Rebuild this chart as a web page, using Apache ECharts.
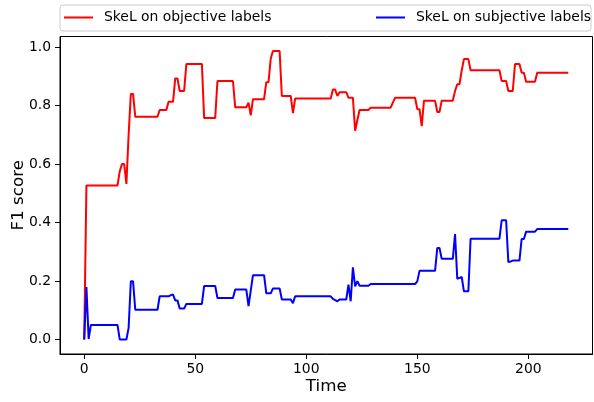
<!DOCTYPE html>
<html>
<head>
<meta charset="utf-8">
<script src="https://cdn.jsdelivr.net/npm/echarts@6/dist/echarts.min.js"></script>
<style>html,body{margin:0;padding:0;background:#fff;}#c{width:594px;height:402px;}</style>
</head>
<body>
<div id="c"></div>
<script>
var seriesNames = ['SkeL on objective labels', 'SkeL on subjective labels'];
var xTicks = [0, 50, 100, 150, 200];
var yTicks = [0, 0.2, 0.4, 0.6, 0.8, 1.0];

var objective = [
0,0.527,0.527,0.527,0.527,0.527,0.527,0.527,0.527,0.527,0.527,0.527,0.527,0.527,0.527,0.527,
0.575,0.60,0.60,0.532,0.70,0.84,0.84,
0.762,0.762,0.762,0.762,0.762,0.762,0.762,0.762,0.762,0.762,0.762,
0.785,0.785,0.785,0.785,0.813,0.813,0.813,0.893,0.893,0.85,0.85,0.85,
0.942,0.942,0.942,0.942,0.942,0.942,0.942,0.942,
0.758,0.758,0.758,0.758,0.758,0.758,
0.884,0.884,0.884,0.884,0.884,0.884,0.884,0.884,
0.794,0.794,0.794,0.794,0.794,0.794,
0.81,0.767,
0.822,0.822,0.822,0.822,0.822,0.822,
0.88,0.88,0.961,
0.987,0.987,0.987,0.987,
0.833,0.833,0.833,0.833,0.833,
0.774,
0.824,0.824,0.824,0.824,0.824,0.824,0.824,0.824,0.824,0.824,0.824,0.824,0.824,0.824,0.824,0.824,0.824,
0.855,0.855,0.833,
0.846,0.846,0.846,0.846,
0.827,0.827,0.827,0.714,0.75,
0.785,0.785,0.785,0.785,0.785,
0.793,0.793,0.793,0.793,0.793,0.793,0.793,0.793,0.793,0.793,
0.81,
0.827,0.827,0.827,0.827,0.827,0.827,0.827,0.827,0.827,0.827,
0.788,0.788,0.73,
0.817,0.817,0.817,0.817,0.817,0.817,
0.778,0.778,
0.817,0.817,0.817,0.817,0.817,0.817,
0.85,0.873,0.873,0.92,
0.959,0.959,0.959,
0.921,0.921,0.921,0.921,0.921,0.921,0.921,0.921,0.921,0.921,0.921,0.921,0.921,0.921,
0.884,0.884,0.884,0.85,0.85,0.85,0.942,0.942,0.942,0.912,0.912,
0.882,0.882,0.882,0.882,0.882,
0.912,0.912,0.912,0.912,0.912,0.912,0.912,0.912,0.912,0.912,0.912,0.912,0.912,0.912,0.912
];

var subjective = [
0,0.18,0.002,
0.05,0.05,0.05,0.05,0.05,0.05,0.05,0.05,0.05,0.05,0.05,0.05,0.05,
0,0,0,0,
0.04,0.199,0.199,
0.102,0.102,0.102,0.102,0.102,0.102,0.102,0.102,0.102,0.102,0.102,
0.148,0.148,0.148,0.148,0.148,0.152,0.154,0.134,0.134,0.106,0.106,0.106,
0.122,0.122,0.122,0.122,0.122,0.122,0.122,0.122,
0.183,0.183,0.183,0.183,0.183,0.183,
0.142,0.142,0.142,0.142,0.142,0.142,0.142,0.142,
0.171,0.171,0.171,0.171,0.171,0.171,
0.114,0.167,
0.22,0.22,0.22,0.22,0.22,0.22,
0.158,0.158,0.158,
0.175,0.175,0.175,0.175,
0.137,0.137,0.137,0.137,0.137,
0.124,
0.148,0.148,0.148,0.148,0.148,0.148,0.148,0.148,0.148,0.148,0.148,0.148,0.148,0.148,0.148,0.148,0.148,
0.139,0.135,0.131,
0.137,0.137,0.137,0.137,
0.188,0.131,0.247,0.182,0.2,
0.184,0.184,0.184,0.184,0.184,
0.19,0.19,0.19,0.19,0.19,0.19,0.19,0.19,0.19,0.19,0.19,0.19,0.19,0.19,0.19,0.19,0.19,0.19,0.19,0.19,0.19,
0.199,
0.235,0.235,0.235,0.235,0.235,0.235,0.235,0.235,
0.313,0.313,
0.276,0.276,0.276,0.276,0.276,0.276,
0.361,0.208,0.211,0.214,
0.165,0.165,0.165,
0.345,0.345,0.345,0.345,0.345,0.345,0.345,0.345,0.345,0.345,0.345,0.345,0.345,0.345,
0.408,0.408,0.408,
0.265,0.267,0.27,0.27,0.27,0.27,
0.344,0.344,
0.369,0.369,0.369,0.369,0.369,
0.378,0.378,0.378,0.378,0.378,0.378,0.378,0.378,0.378,0.378,0.378,0.378,0.378,0.378,0.378
];

var time = objective.map(function (_, i) { return i; });

function pairs(vals) { return vals.map(function (v, i) { return [time[i], v]; }); }

var FONT = 'DejaVu Sans';
var chart = echarts.init(document.getElementById('c'), null, {renderer: 'canvas'});
chart.setOption({
  animation: false,
  backgroundColor: '#fff',
  textStyle: {fontFamily: FONT},
  grid: {left: 60, right: 1.5, top: 36.5, bottom: 48, show: true, borderColor: '#000', borderWidth: 1,
         backgroundColor: 'transparent', containLabel: false, outerBoundsMode: 'none'},
  graphic: [{
    type: 'rect', left: 59.5, top: 4.5,
    shape: {width: 531, height: 26, r: 3},
    style: {fill: '#fff', stroke: '#cccccc', lineWidth: 1},
    z: 0
  }],
  legend: [
    {data: [seriesNames[0]], left: 64, top: 10.5, padding: 0, icon: 'rect', itemWidth: 29, itemHeight: 2,
     textStyle: {fontFamily: FONT, fontSize: 13.9, color: '#000', padding: [0, 0, 0, 6]}, z: 5},
    {data: [seriesNames[1]], left: 376, top: 10.5, padding: 0, icon: 'rect', itemWidth: 29, itemHeight: 2,
     textStyle: {fontFamily: FONT, fontSize: 13.9, color: '#000', padding: [0, 0, 0, 6]}, z: 5}
  ],
  xAxis: {
    type: 'value', min: -10.9, max: 228.9,
    name: 'Time', nameLocation: 'middle', nameGap: 24, nameMoveOverlap: false,
    nameTextStyle: {fontFamily: FONT, fontSize: 16.7, color: '#000'},
    axisLine: {show: true, onZero: false, lineStyle: {color: '#000', width: 1}},
    axisTick: {show: true, customValues: xTicks, length: 5, lineStyle: {color: '#000'}},
    axisLabel: {customValues: xTicks, fontFamily: FONT, fontSize: 13.9, color: '#000', margin: 8},
    splitLine: {show: false}
  },
  yAxis: {
    type: 'value', min: -0.04935, max: 1.03635,
    name: 'F1 score', nameLocation: 'middle', nameGap: 33, nameMoveOverlap: false,
    nameTextStyle: {fontFamily: FONT, fontSize: 16.7, color: '#000'},
    axisLine: {show: true, onZero: false, lineStyle: {color: '#000', width: 1}},
    axisTick: {show: true, customValues: yTicks, length: 5, lineStyle: {color: '#000'}},
    axisLabel: {customValues: yTicks, fontFamily: FONT, fontSize: 13.9, color: '#000', margin: 9,
      formatter: function (v) { return v.toFixed(1); }},
    splitLine: {show: false}
  },
  series: [
    {name: seriesNames[0], type: 'line', data: pairs(objective), showSymbol: false, symbol: 'none',
     lineStyle: {color: '#ff0000', width: 2}, itemStyle: {color: '#ff0000'}},
    {name: seriesNames[1], type: 'line', data: pairs(subjective), showSymbol: false, symbol: 'none',
     lineStyle: {color: '#0000ff', width: 2}, itemStyle: {color: '#0000ff'}}
  ]
});
</script>
</body>
</html>
